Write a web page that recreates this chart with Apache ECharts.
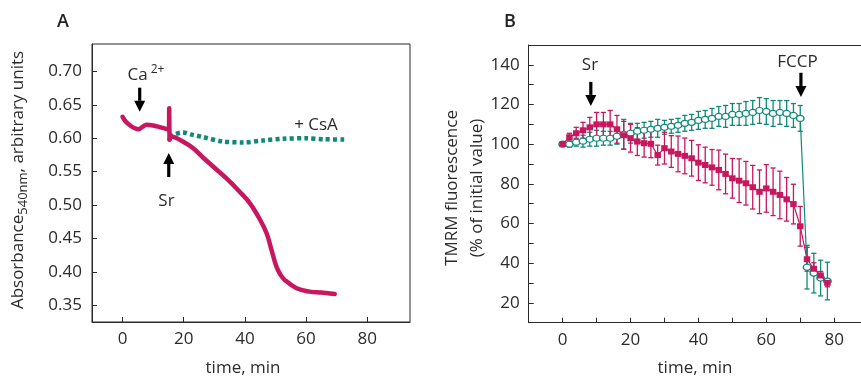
<!DOCTYPE html>
<html>
<head>
<meta charset="utf-8">
<script src="https://cdn.jsdelivr.net/npm/echarts@6/dist/echarts.min.js"></script>
<style>html,body{margin:0;padding:0;background:#fff}#c{width:861px;height:379px}</style>
</head>
<body>
<div id="c"></div>
<script>
// ---- Panel A data ----
const aSrTime = [0, 1, 2.5, 4, 5.3, 6.5, 7.8, 10, 12.1, 14.5, 15.2, 15.25, 15.35, 15.9, 19.7, 23.0, 26.3, 29.6, 33.9, 38.3, 41.6, 44.9, 47.1, 48.7, 50.3, 51.6, 53.0, 56.9, 61.2, 65, 69.4];
const aSrValue = [0.632, 0.625, 0.619, 0.615, 0.6135, 0.617, 0.620, 0.619, 0.6167, 0.6137, 0.6125, 0.645, 0.598, 0.6027, 0.595, 0.5853, 0.5712, 0.5577, 0.5403, 0.520, 0.5029, 0.4785, 0.4579, 0.433, 0.408, 0.396, 0.388, 0.3756, 0.3705, 0.369, 0.367];
const aCsaTime = [15.4, 16.5, 19.7, 23, 26.3, 32.8, 39.4, 45.9, 52.5, 60.1, 66, 72.7];
const aCsaValue = [0.6017, 0.6052, 0.6086, 0.605, 0.6017, 0.5951, 0.5937, 0.5966, 0.5992, 0.600, 0.5985, 0.598];
const aXTicks = [0, 20, 40, 60, 80];
const aYTicks = [0.35, 0.40, 0.45, 0.50, 0.55, 0.60, 0.65, 0.70];

// ---- Panel B data ----
const bTime = [0, 2, 4, 6, 8, 10, 12, 14, 16, 18, 20, 22, 24, 26, 28, 30, 32, 34, 36, 38, 40, 42, 44, 46, 48, 50, 52, 54, 56, 58, 60, 62, 64, 66, 68, 70, 72, 74, 76, 78];
const bSrMean = [100, 103.5, 105.5, 107, 108.5, 110, 110, 110, 107.5, 104.5, 103, 101.3, 100.5, 100.2, 94.5, 98, 96.3, 95.1, 94.1, 92.9, 90.7, 89.5, 88.3, 87, 85, 82.8, 81.6, 80.3, 78.3, 76, 77.7, 76, 74.4, 72.2, 69.8, 58.6, 42, 37.2, 33.8, 30.1];
const bSrErr = [0, 2, 3, 4, 5, 6, 6, 7, 7, 7, 7, 7, 7, 7, 5, 8, 8, 9, 9, 9, 9, 9, 9, 10, 10, 10, 11, 11, 11, 11, 12, 12, 12, 11, 10, 10, 6, 3, 2, 2];
const bCtlMean = [100, 100, 101, 101.5, 102.5, 103, 103, 103, 104, 105, 105.5, 106.5, 107, 107.5, 108, 108.5, 109, 109.5, 110.5, 111, 112, 112.5, 113, 114, 114, 115, 115, 115.5, 116, 117, 116.5, 115.5, 116, 115.5, 114.5, 113, 38, 35, 32.5, 31];
const bCtlErr = [0, 1.5, 2, 3, 3.5, 4, 3.5, 3.5, 4, 7.5, 5, 4, 4, 4, 4.5, 3.5, 3.5, 3.5, 4, 4, 4.5, 4.5, 5, 5, 5.5, 5.5, 5.5, 6, 6, 6.5, 6.5, 6.5, 6, 6.5, 6, 6.5, 11, 10, 9, 9.5];
const bXTicks = [0, 10, 20, 30, 40, 50, 60, 70, 80];
const bXLabels = [0, 20, 40, 60, 80];
const bYTicks = [20, 30, 40, 50, 60, 70, 80, 90, 100, 110, 120, 130, 140];
const bYLabels = [20, 40, 60, 80, 100, 120, 140];

// arrows: [time, tail value, tip value]
const aArrows = [[5.6, 0.6756, 0.6396], [15.1, 0.542, 0.578]];
const bArrows = [[8.3, 131.4, 119.3], [70.2, 136.0, 123.8]];

const PINK = '#c8175f';
const TEAL = '#11897a';
const INK = '#2b2b2b';
const FONT = '"Open Sans", "Noto Sans", sans-serif';

const chart = echarts.init(document.getElementById('c'), null, {renderer: 'canvas'});

function pairs(xs, ys) { return xs.map((x, i) => [x, ys[i]]); }
function triples(xs, ys, es) { return xs.map((x, i) => [x, ys[i], es[i]]); }

// split pink trace of panel A: before spike, the spike itself, after spike
const spikeStart = aSrTime.indexOf(15.2), spikeEnd = aSrTime.indexOf(15.35);
const aSrAll = pairs(aSrTime, aSrValue);
const aSrPre = aSrAll.slice(0, spikeStart + 1);
const aSrSpike = aSrAll.slice(spikeStart, spikeEnd + 1);
const aSrPost = aSrAll.slice(spikeEnd);

function errRender(color) {
  return function (params, api) {
    const x = api.value(0), y = api.value(1), e = api.value(2);
    if (!e) return null;
    const t = api.coord([x, y + e]);
    const b = api.coord([x, y - e]);
    const cw = 2.6;
    const st = {stroke: color, lineWidth: 1.3};
    return {type: 'group', children: [
      {type: 'line', shape: {x1: t[0], y1: t[1], x2: b[0], y2: b[1]}, style: st},
      {type: 'line', shape: {x1: t[0] - cw, y1: t[1], x2: t[0] + cw, y2: t[1]}, style: st},
      {type: 'line', shape: {x1: b[0] - cw, y1: b[1], x2: b[0] + cw, y2: b[1]}, style: st}
    ]};
  };
}

function arrowRender(params, api) {
  const x = api.value(0);
  const tail = api.coord([x, api.value(1)]);
  const tip = api.coord([x, api.value(2)]);
  const dir = tip[1] > tail[1] ? 1 : -1;
  const headLen = 11, headW = 5.5, shaftW = 3.2;
  const baseY = tip[1] - dir * headLen;
  return {type: 'group', children: [
    {type: 'rect', shape: {x: tail[0] - shaftW / 2, y: Math.min(tail[1], baseY), width: shaftW, height: Math.abs(baseY - tail[1])}, style: {fill: '#000'}},
    {type: 'polygon', shape: {points: [[tip[0], tip[1]], [tip[0] - headW, baseY], [tip[0] + headW, baseY]]}, style: {fill: '#000'}}
  ]};
}

function ax(extra) {
  const base = {
    axisLine: {show: true, onZero: false, lineStyle: {color: INK, width: 1}},
    axisTick: {show: true, inside: true, length: 5, lineStyle: {color: INK}},
    splitLine: {show: false},
    axisLabel: {color: INK, fontFamily: FONT, fontSize: 17}
  };
  const out = Object.assign({}, base, extra);
  out.axisTick = Object.assign({}, base.axisTick, extra.axisTick || {});
  out.axisLabel = Object.assign({}, base.axisLabel, extra.axisLabel || {});
  out.axisLine = Object.assign({}, base.axisLine, extra.axisLine || {});
  return out;
}

const pinkA = {color: PINK, width: 4.5, cap: 'round', join: 'round'};

const option = {
  animation: false,
  backgroundColor: '#fff',
  grid: [
    {left: 92, top: 44, width: 318, height: 278, show: true, borderColor: INK, borderWidth: 1, containLabel: false},
    {left: 528.7, top: 45, width: 332.3, height: 277.7, show: false, containLabel: false}
  ],
  xAxis: [
    ax({gridIndex: 0, type: 'value', min: -10, max: 94,
      axisTick: {customValues: aXTicks}, axisLabel: {customValues: aXTicks, margin: 9}}),
    ax({gridIndex: 1, type: 'value', min: -10, max: 87.9, position: 'bottom',
      axisTick: {customValues: bXTicks}, axisLabel: {customValues: bXLabels, margin: 9}}),
    ax({gridIndex: 1, type: 'value', min: -10, max: 87.9, position: 'top',
      axisTick: {show: false}, axisLabel: {show: false}})
  ],
  yAxis: [
    ax({gridIndex: 0, type: 'value', min: 0.325, max: 0.741,
      axisTick: {customValues: aYTicks}, axisLabel: {customValues: aYTicks, margin: 10, formatter: v => v.toFixed(2)}}),
    ax({gridIndex: 1, type: 'value', min: 10, max: 150,
      axisTick: {customValues: bYTicks}, axisLabel: {customValues: bYLabels, margin: 9}})
  ],
  series: [
    {type: 'line', xAxisIndex: 0, yAxisIndex: 0, data: pairs(aCsaTime, aCsaValue), showSymbol: false, smooth: 0.3,
      lineStyle: {color: TEAL, width: 4.5, type: [4, 3.2], cap: 'butt'}, z: 2},
    {type: 'line', xAxisIndex: 0, yAxisIndex: 0, data: aSrPre, showSymbol: false, smooth: 0.35, lineStyle: pinkA, z: 3},
    {type: 'line', xAxisIndex: 0, yAxisIndex: 0, data: aSrSpike, showSymbol: false, smooth: false, lineStyle: pinkA, z: 3},
    {type: 'line', xAxisIndex: 0, yAxisIndex: 0, data: aSrPost, showSymbol: false, smooth: 0.4, lineStyle: pinkA, z: 3},
    {type: 'custom', xAxisIndex: 0, yAxisIndex: 0, data: aArrows, renderItem: arrowRender, z: 5},

    {type: 'custom', xAxisIndex: 1, yAxisIndex: 1, data: triples(bTime, bCtlMean, bCtlErr), renderItem: errRender(TEAL), z: 2},
    {type: 'custom', xAxisIndex: 1, yAxisIndex: 1, data: triples(bTime, bSrMean, bSrErr), renderItem: errRender(PINK), z: 3},
    {type: 'line', xAxisIndex: 1, yAxisIndex: 1, data: pairs(bTime, bCtlMean), symbol: 'circle', symbolSize: [7.5, 6],
      lineStyle: {color: TEAL, width: 1.2}, itemStyle: {color: '#fff', borderColor: TEAL, borderWidth: 1.3}, z: 4},
    {type: 'line', xAxisIndex: 1, yAxisIndex: 1, data: pairs(bTime, bSrMean), symbol: 'rect', symbolSize: [6.5, 6],
      lineStyle: {color: PINK, width: 1.2}, itemStyle: {color: PINK}, z: 5},
    {type: 'custom', xAxisIndex: 1, yAxisIndex: 1, data: bArrows, renderItem: arrowRender, z: 6}
  ],
  graphic: [
    {type: 'text', x: 63, y: 22, style: {text: 'A', font: '600 18px ' + FONT, fill: '#222', align: 'center', verticalAlign: 'middle'}},
    {type: 'text', x: 510, y: 22, style: {text: 'B', font: '600 18px ' + FONT, fill: '#222', align: 'center', verticalAlign: 'middle'}},
    {type: 'text', x: 146, y: 75, style: {text: '{m|Ca}{p|2+}', align: 'center', verticalAlign: 'middle',
      rich: {m: {fontSize: 17, fontFamily: FONT, fill: INK, lineHeight: 22, verticalAlign: 'middle'},
             p: {fontSize: 12, fontFamily: FONT, fill: INK, lineHeight: 12, verticalAlign: 'top', padding: [0, 0, 0, 3]}}}},
    {type: 'text', x: 166.5, y: 201, style: {text: 'Sr', fontSize: 17, fontFamily: FONT, fill: INK, align: 'center', verticalAlign: 'middle'}},
    {type: 'text', x: 316, y: 125, style: {text: '+ CsA', fontSize: 17, fontFamily: FONT, fill: INK, align: 'center', verticalAlign: 'middle'}},
    {type: 'text', x: 590, y: 65, style: {text: 'Sr', fontSize: 17, fontFamily: FONT, fill: INK, align: 'center', verticalAlign: 'middle'}},
    {type: 'text', x: 797.5, y: 62, style: {text: 'FCCP', fontSize: 17, fontFamily: FONT, fill: INK, align: 'center', verticalAlign: 'middle'}},
    {type: 'text', x: 243, y: 368, style: {text: 'time, min', fontSize: 17, fontFamily: FONT, fill: INK, align: 'center', verticalAlign: 'middle'}},
    {type: 'text', x: 695, y: 368, style: {text: 'time, min', fontSize: 17, fontFamily: FONT, fill: INK, align: 'center', verticalAlign: 'middle'}},
    {type: 'text', x: 18, y: 180, rotation: Math.PI / 2, style: {text: '{m|Absorbance}{s|540nm}{m|, arbitrary units}', align: 'center', verticalAlign: 'middle',
      rich: {m: {fontSize: 17, fontFamily: FONT, fill: INK, lineHeight: 24, verticalAlign: 'middle'},
             s: {fontSize: 13, fontFamily: FONT, fill: INK, lineHeight: 13, verticalAlign: 'top', padding: [11, 0, 0, 0]}}}},
    {type: 'text', x: 464.5, y: 188, rotation: Math.PI / 2, style: {text: 'TMRM fluorescence\n(% of initial value)', fontSize: 17, fontFamily: FONT, fill: INK, lineHeight: 25, align: 'center', verticalAlign: 'middle'}}
  ]
};
chart.setOption(option);
</script>
</body>
</html>
